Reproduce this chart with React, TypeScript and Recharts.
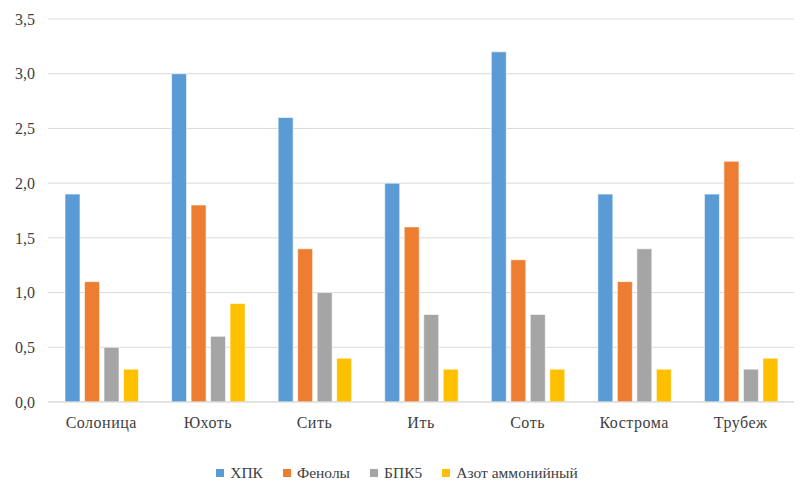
import React from "react"
import { BarChart, Bar, XAxis, YAxis, CartesianGrid, Legend } from "recharts"

const rivers = ["Солоница", "Юхоть", "Сить", "Ить", "Соть", "Кострома", "Трубеж"]
const hpk = [1.9, 3.0, 2.6, 2.0, 3.2, 1.9, 1.9]
const phenols = [1.1, 1.8, 1.4, 1.6, 1.3, 1.1, 2.2]
const bpk5 = [0.5, 0.6, 1.0, 0.8, 0.8, 1.4, 0.3]
const ammonium = [0.3, 0.9, 0.4, 0.3, 0.3, 0.3, 0.4]
const yTicks = [0, 0.5, 1, 1.5, 2, 2.5, 3, 3.5]

const series = [
  { key: "hpk", name: "ХПК", color: "#5B9BD5" },
  { key: "phenols", name: "Фенолы", color: "#ED7D31" },
  { key: "bpk5", name: "БПК5", color: "#A5A5A5" },
  { key: "ammonium", name: "Азот аммонийный", color: "#FFC000" },
]

const data = rivers.map((name, i) => ({
  name,
  hpk: hpk[i],
  phenols: phenols[i],
  bpk5: bpk5[i],
  ammonium: ammonium[i],
}))

const font = '"Liberation Serif", "Times New Roman", serif'
const textColor = "#404040"

function LegendBox() {
  return (
    <div style={{ height: 20, display: "flex", justifyContent: "center", alignItems: "center", fontFamily: font, fontSize: 15.5, color: textColor }}>
      {series.map((s, i) => (
        <div key={s.key} style={{ display: "flex", alignItems: "center", marginLeft: i === 0 ? 0 : 20 }}>
          <span style={{ width: 8, height: 8, background: s.color, marginRight: 6, display: "inline-block" }} />
          <span>{s.name}</span>
        </div>
      ))}
    </div>
  )
}

export default function App() {
  return (
    <div style={{ position: "absolute", left: 0, top: 0, width: 800, height: 491, background: "#fff" }}>
      <BarChart
        width={800}
        height={491}
        data={data}
        margin={{ top: 19, right: 6, bottom: 0, left: 0 }}
        barSize={15}
        barGap={4.5}
      >
        <CartesianGrid vertical={false} stroke="#d9d9d9" />
        <XAxis
          dataKey="name"
          height={69}
          tickSize={0}
          tickMargin={15}
          axisLine={{ stroke: "#d9d9d9" }}
          tickLine={false}
          tick={{ fill: textColor, fontSize: 16, fontFamily: font, letterSpacing: 0.5 }}
        />
        <YAxis
          width={48}
          domain={[0, 3.5]}
          ticks={yTicks}
          tickSize={0}
          tickMargin={13}
          axisLine={false}
          tickLine={false}
          tickFormatter={(v: number) => v.toFixed(1).replace(".", ",")}
          tick={{ fill: textColor, fontSize: 16, fontFamily: font }}
        />
        <Legend verticalAlign="bottom" height={20} wrapperStyle={{ bottom: 8 }} content={() => <LegendBox />} />
        {series.map((s) => (
          <Bar
            key={s.key}
            dataKey={s.key}
            name={s.name}
            fill={s.color}
            stroke="#ffffff"
            strokeOpacity={0.6}
            strokeWidth={1}
            isAnimationActive={false}
          />
        ))}
      </BarChart>
    </div>
  )
}
